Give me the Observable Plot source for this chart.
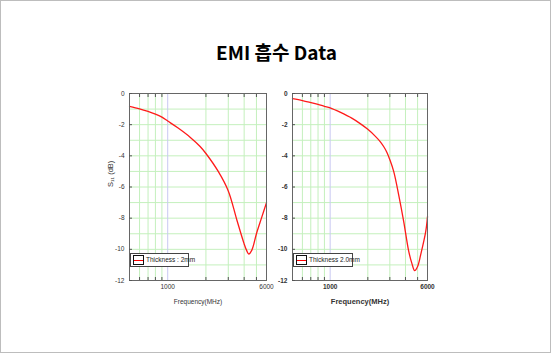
<!DOCTYPE html>
<html><head><meta charset="utf-8">
<script src="https://cdn.jsdelivr.net/npm/d3@7"></script>
<script src="https://cdn.jsdelivr.net/npm/@observablehq/plot@0.6"></script>
<style>
body{margin:0;background:#fff;}
#page{position:relative;width:551px;height:353px;box-sizing:border-box;border:1px solid #bdbdbd;background:#fff;overflow:hidden;}
#title{position:absolute;left:0;width:551px;top:37px;text-align:center;font-family:"Noto Sans CJK KR","Noto Sans",sans-serif;font-weight:bold;font-size:19px;color:#000;}
.panel{position:absolute;top:80px;}
.legend{position:absolute;background:#fff;border:1px solid #444;height:12px;font-family:"Liberation Sans Narrow","Liberation Sans",sans-serif;font-size:6.5px;color:#222;line-height:12px;white-space:nowrap;}
.legend .sw{position:absolute;left:2px;top:1px;width:9px;height:8px;border:1px solid #111;}
.legend .sw i{position:absolute;left:0;right:0;top:3.5px;height:1.4px;background:#f00;}
.legend span{position:absolute;left:15px;top:0;}
</style></head>
<body>
<div id="page">
  <div id="title">EMI 흡수 Data</div>
</div>
<script>
// Data
const freq2mm = [500, 600, 700, 800, 900, 1000, 1200, 1500, 1800, 2000, 2500, 3000, 3500, 4000, 4200, 4350, 4600, 5000, 5500, 6000];
const s11_2mm = [-0.82, -0.98, -1.15, -1.32, -1.52, -1.77, -2.2, -2.8, -3.4, -3.85, -5.0, -6.25, -8.1, -9.65, -10.1, -10.3, -10.05, -9.0, -7.95, -7.0];
const freq20mm = [500, 600, 700, 800, 900, 1000, 1200, 1500, 1750, 2000, 2300, 2520, 2700, 2850, 3000, 3220, 3530, 3870, 4240, 4500, 4740, 5000, 5290, 5810, 6000];
const s11_20mm = [-0.33, -0.45, -0.58, -0.7, -0.82, -0.92, -1.2, -1.6, -1.95, -2.3, -2.75, -3.1, -3.45, -3.8, -4.25, -5.0, -6.5, -8.2, -10.1, -10.9, -11.37, -11.1, -10.35, -8.85, -7.9];
const xTickLabels = [1000, 6000];
const xGridGreen = [600, 700, 800, 900, 2000, 3000, 4000, 5000];
const xGridBlue = [1000];
const yTickLabels = [0, -2, -4, -6, -8, -10, -12];
const yGrid = [-1, -2, -3, -4, -5, -6, -7, -8, -9, -10, -11];
const legendLabels = ["Thickness : 2mm", "Thickness 2.0mm"];

const font = '"Liberation Sans Narrow","Liberation Sans",Arial,sans-serif';

function panel(freq, vals, opts) {
  const data = freq.map((f, i) => ({f, s: vals[i]}));
  return Plot.plot({
    width: opts.width, height: 235,
    marginLeft: 39, marginRight: 14, marginTop: 12, marginBottom: 36,
    x: {type: "log", domain: [500, 6000]},
    y: {domain: [-12, 0]},
    style: {fontFamily: font, fontSize: "6.5px", background: "transparent", overflow: "visible", color: "#333", fontWeight: opts.weight},
    marks: [
      Plot.ruleY(yGrid, {stroke: "#c4f0bd", strokeWidth: 1}),
      Plot.ruleX(xGridGreen, {stroke: "#c4f0bd", strokeWidth: 1}),
      Plot.ruleX(xGridBlue, {stroke: "#c8c8f2", strokeWidth: 1}),
      Plot.line(data, {x: "f", y: "s", stroke: "#ff1a1a", strokeWidth: 1.3, curve: "catmull-rom"}),
      Plot.frame({stroke: "#666"}),
      Plot.axisX(xGridGreen, {anchor: "top", tickSize: -3, tickFormat: () => "", label: null, stroke: "#555"}),
      Plot.axisX(xGridGreen, {anchor: "bottom", tickSize: -3, tickFormat: () => "", label: null, stroke: "#555"}),
      Plot.text(xTickLabels, {x: d => d, frameAnchor: "bottom", dy: 8, text: d => String(d), fill: "#333", fontWeight: opts.weight}),
      Plot.axisX(xTickLabels, {anchor: "bottom", tickSize: 0, tickFormat: () => "",
        label: "Frequency(MHz)", labelAnchor: "center", labelArrow: "none", labelOffset: 23,
        fontSize: opts.xLabelSize, fontWeight: opts.weight}),
      Plot.axisY(yTickLabels, {anchor: "left", tickSize: -3, tickPadding: 8, tickFormat: d => String(d),
        label: null, stroke: "#555", fontWeight: opts.weight}),
      ...(opts.yLabel ? [Plot.text([opts.yLabel], {frameAnchor: "left", dx: -19, rotate: -90, text: d => d, fontSize: 7.5, fill: "#333"})] : [])
    ]
  });
}

const page = document.getElementById("page");

const left = panel(freq2mm, s11_2mm, {width: 190, yLabel: "S\u2081\u2081 (dB)", xLabelSize: 6.5, weight: "normal"});
left.classList.add("panel"); left.style.left = "89px";
page.appendChild(left);

const right = panel(freq20mm, s11_20mm, {width: 188, yLabel: null, xLabelSize: 7.5, weight: "bold"});
right.classList.add("panel"); right.style.left = "252px";
page.appendChild(right);

function legend(text, x, y, w) {
  const d = document.createElement("div");
  d.className = "legend";
  d.style.left = x + "px"; d.style.top = y + "px"; d.style.width = w + "px";
  d.innerHTML = '<div class="sw"><i></i></div><span></span>';
  d.querySelector("span").textContent = text;
  page.appendChild(d);
}
legend(legendLabels[0], 129, 252, 57);
legend(legendLabels[1], 292, 252, 58);
</script>
</body></html>
